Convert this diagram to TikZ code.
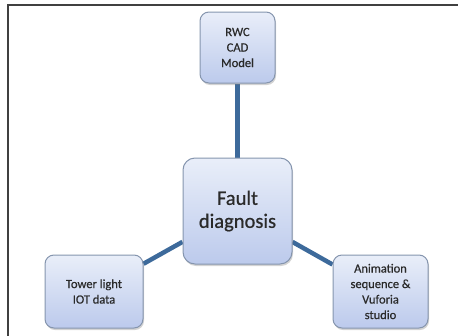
\documentclass[tikz,border=0pt]{standalone}
\usepackage{fontspec}
\setmainfont{Carlito}
\newfontfamily\boxfont[FakeBold=0.6]{Carlito}
\usetikzlibrary{positioning,shadows,backgrounds}
\definecolor{boxfill}{HTML}{BCCAEC}
\definecolor{boxtop}{HTML}{E9EEF9}
\definecolor{boxedge}{HTML}{8595AE}
\definecolor{linkblue}{HTML}{3D6A9B}
\definecolor{textgray}{HTML}{2A2A2A}

\begin{document}
\begin{tikzpicture}[x=1pt,y=-1pt,
    box/.style={draw=boxedge, line width=1pt, rounded corners=9pt, top color=boxtop, bottom color=boxfill,
        drop shadow={shadow xshift=1pt, shadow yshift=-2pt, opacity=0.35},
        align=center, text=textgray, inner sep=2pt, font=\boxfont\fontsize{12.5}{15.5}\selectfont},
    link/.style={line width=4.5pt, linkblue}]
    \useasboundingbox (0,0) rectangle (458,335);
    \clip (0,0) rectangle (458,335);
    \draw[line width=1.8pt, black!75] (8,345) -- (8,5) -- (470,5);
    \node[box, minimum width=75pt, minimum height=71pt] (cad) at (237.5,47.5) {RWC\\CAD\\Model};
    \node[box, rounded corners=12pt, minimum width=109pt, minimum height=106pt, font=\boxfont\fontsize{20.5}{23}\selectfont] (fault) at (237.5,211) {Fault\\diagnosis};
    \node[box, minimum width=98pt, minimum height=73pt] (iot) at (94,291.5) {Tower light\\IOT data};
    \node[box, minimum width=95pt, minimum height=73pt] (anim) at (380.5,291.5) {Animation\\sequence \&\\Vuforia\\studio};
    \begin{scope}[on background layer]
        \draw[link] (cad) -- (fault);
        \draw[link] (fault) -- (iot);
        \draw[link] (fault) -- (anim);
    \end{scope}
\end{tikzpicture}
\end{document}
